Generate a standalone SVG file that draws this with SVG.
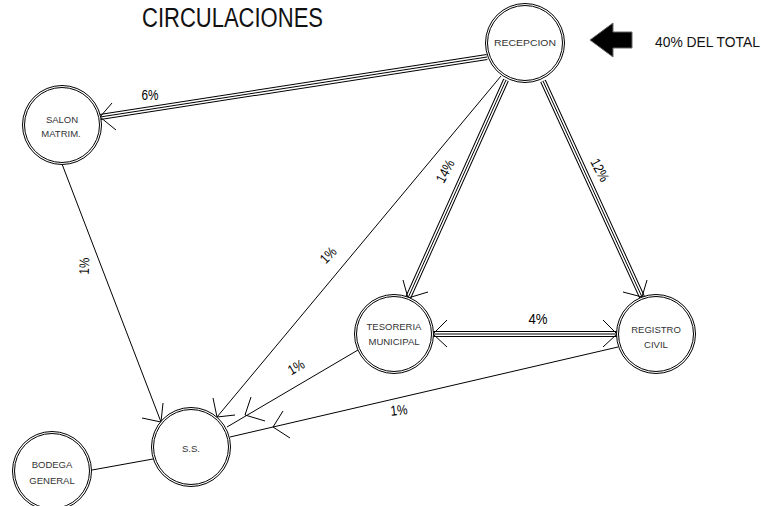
<svg xmlns="http://www.w3.org/2000/svg" width="761" height="506" viewBox="0 0 761 506">
<style>
.o{fill:#fff;stroke:#000;stroke-width:1}
.i{fill:none;stroke:#000;stroke-width:1}
.n{font-family:"Liberation Sans",Arial,sans-serif;font-size:9.5px;fill:#333;text-anchor:middle}
.p{font-family:"Liberation Sans Narrow","Liberation Sans",Arial,sans-serif;font-size:14px;fill:#000;text-anchor:middle}
.t1{fill:none;stroke:#000;stroke-width:6}
.t2{fill:none;stroke:#fff;stroke-width:4}
.t3{fill:none;stroke:#000;stroke-width:1}
.s{fill:none;stroke:#000;stroke-width:1}
.a{fill:none;stroke:#000;stroke-width:1}
</style>
<rect width="761" height="506" fill="#fff"/>
<text x="142" y="27" font-family="'Liberation Sans Narrow','Liberation Sans',Arial,sans-serif" font-size="27" fill="#111" textLength="181" lengthAdjust="spacingAndGlyphs">CIRCULACIONES</text>
<text x="655" y="47" font-family="'Liberation Sans Narrow','Liberation Sans',Arial,sans-serif" font-size="14" fill="#111" textLength="105" lengthAdjust="spacingAndGlyphs">40% DEL TOTAL</text>
<polygon points="590,40 613,23 613,32 632,32 632,48 613,48 613,57" fill="#000" stroke="#666" stroke-width="1"/>
<g id="connectors">
<g id="triple">
<path class="t1" d="M487,57 L100,117 M506,80 L408,298 M543,81 L642,297 M433,334 L617,334"/>
<path class="t2" d="M487,57 L100,117 M506,80 L408,298 M543,81 L642,297 M433,334 L617,334"/>
<path class="t3" d="M487,57 L100,117 M506,80 L408,298 M543,81 L642,297 M433,334 L617,334"/>
</g>
<path class="s" d="M62,164 L161,422 M501,76 L217,417 M358,350 L227,427 M618,347 L230,437 M92,470 L153,459"/>
<path class="a" d="M112,103 L100,117 L116,130 M403,280 L408,298 L428,292 M647,280 L642,297 L623,292 M447,320 L433,334 L447,347 M603,320 L617,334 L603,347 M163,403 L161,422 L142,418 M213,398 L217,417 L235,415 M251,397 L245,415 L265,421 M283,411 L273,427 L290,438"/>
<text class="p" x="150" y="100" textLength="17" lengthAdjust="spacingAndGlyphs">6%</text>
<text class="p" transform="translate(445,171) rotate(-62)" x="0" y="5" textLength="24" lengthAdjust="spacingAndGlyphs">14%</text>
<text class="p" transform="translate(600,170) rotate(62)" x="0" y="5" textLength="24" lengthAdjust="spacingAndGlyphs">12%</text>
<text class="p" x="538" y="324" textLength="19" lengthAdjust="spacingAndGlyphs">4%</text>
<text class="p" transform="translate(84,266) rotate(-88)" x="0" y="5" textLength="17" lengthAdjust="spacingAndGlyphs">1%</text>
<text class="p" transform="translate(328,255) rotate(-46)" x="0" y="5" textLength="17" lengthAdjust="spacingAndGlyphs">1%</text>
<text class="p" transform="translate(296,367) rotate(-30)" x="0" y="5" textLength="17" lengthAdjust="spacingAndGlyphs">1%</text>
<text class="p" transform="translate(399,410) rotate(-6)" x="0" y="5" textLength="17" lengthAdjust="spacingAndGlyphs">1%</text>
</g>
<g id="recepcion">
<circle class="o" cx="525" cy="43" r="39.5"/><circle class="i" cx="525" cy="43" r="37.5"/>
<text class="n" x="525" y="45.5" textLength="62" lengthAdjust="spacingAndGlyphs">RECEPCION</text>
</g>
<g id="salon">
<circle class="o" cx="62" cy="125" r="39.5"/><circle class="i" cx="62" cy="125" r="37.5"/>
<text class="n" x="62" y="123">SALON</text>
<text class="n" x="61" y="137">MATRIM.</text>
</g>
<g id="tesoreria">
<circle class="o" cx="394" cy="334" r="39.5"/><circle class="i" cx="394" cy="334" r="37.5"/>
<text class="n" x="394" y="330">TESORERIA</text>
<text class="n" x="394" y="345">MUNICIPAL</text>
</g>
<g id="registro">
<circle class="o" cx="656" cy="334" r="39.5"/><circle class="i" cx="656" cy="334" r="37.5"/>
<text class="n" x="656" y="333">REGISTRO</text>
<text class="n" x="656" y="348">CIVIL</text>
</g>
<g id="ss">
<circle class="o" cx="191" cy="447" r="39.5"/><circle class="i" cx="191" cy="447" r="37.5"/>
<text class="n" x="191" y="452">S.S.</text>
</g>
<g id="bodega">
<circle class="o" cx="52" cy="471" r="39.5"/><circle class="i" cx="52" cy="471" r="37.5"/>
<text class="n" x="52" y="468">BODEGA</text>
<text class="n" x="52" y="484">GENERAL</text>
</g>
</svg>
